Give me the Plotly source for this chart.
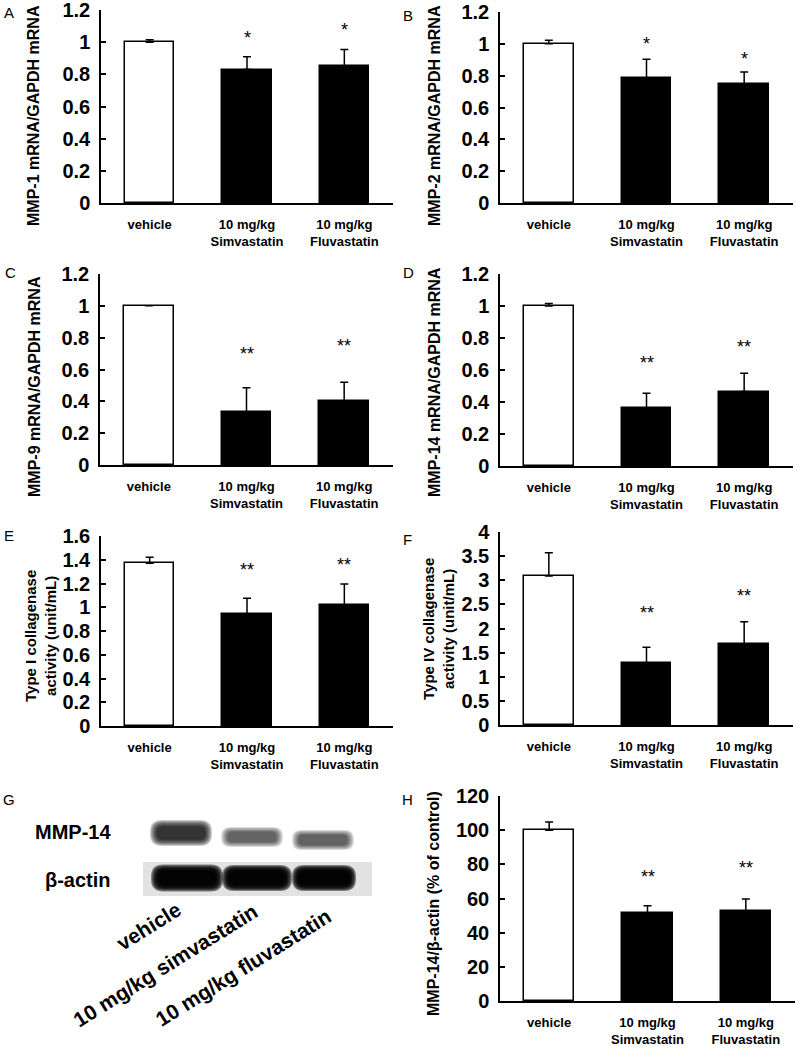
import plotly.graph_objects as go

# ---------------- data ----------------
categories = ["vehicle", "10 mg/kg<br>Simvastatin", "10 mg/kg<br>Fluvastatin"]
bar_colors = ["white", "black", "black"]

mmp1_mean = [1.00, 0.83, 0.85]
mmp1_err = [0.015, 0.08, 0.105]
mmp1_sig = ["", "*", "*"]
mmp1_sig_y = [0, 1.06, 1.108]

mmp2_mean = [1.00, 0.787, 0.745]
mmp2_err = [0.022, 0.116, 0.078]
mmp2_sig = ["", "*", "*"]
mmp2_sig_y = [0, 1.032, 0.938]

mmp9_mean = [1.00, 0.33, 0.40]
mmp9_err = [0.0, 0.155, 0.12]
mmp9_sig = ["", "**", "**"]
mmp9_sig_y = [0, 0.728, 0.776]

mmp14_mean = [1.00, 0.36, 0.465]
mmp14_err = [0.015, 0.095, 0.115]
mmp14_sig = ["", "**", "**"]
mmp14_sig_y = [0, 0.678, 0.778]

col1_mean = [1.37, 0.94, 1.015]
col1_err = [0.05, 0.135, 0.18]
col1_sig = ["", "**", "**"]
col1_sig_y = [0, 1.36, 1.40]

col4_mean = [3.09, 1.29, 1.68]
col4_err = [0.48, 0.32, 0.46]
col4_sig = ["", "**", "**"]
col4_sig_y = [0, 2.42, 2.77]

wb_mean = [100, 51.7, 52.7]
wb_err = [4.8, 4.1, 7.0]
wb_sig = ["", "**", "**"]
wb_sig_y = [0, 75.5, 80.8]

blot_lanes = ["vehicle", "10 mg/kg simvastatin", "10 mg/kg fluvastatin"]
mmp14_band_intensity = [1.0, 0.6, 0.62]
actin_band_intensity = [1.0, 1.0, 1.0]

# ---------------- layout helpers ----------------
W, H = 800, 1049
FONT = "Arial, Liberation Sans, Helvetica, sans-serif"


def px(x):
    return x / W


def py(y):
    return 1 - y / H


panels = [
    dict(letter="A", mean=mmp1_mean, err=mmp1_err, sig=mmp1_sig, sig_y=mmp1_sig_y,
         ymax=1.2, dtick=0.2, title="MMP-1 mRNA/GAPDH mRNA", title_size=16,
         box=(101, 393, 10, 203), title_pos=(33, 116), letter_pos=(9, 13)),
    dict(letter="B", mean=mmp2_mean, err=mmp2_err, sig=mmp2_sig, sig_y=mmp2_sig_y,
         ymax=1.2, dtick=0.2, title="MMP-2 mRNA/GAPDH mRNA", title_size=16,
         box=(500, 793, 12, 203), title_pos=(434, 116), letter_pos=(408, 15)),
    dict(letter="C", mean=mmp9_mean, err=mmp9_err, sig=mmp9_sig, sig_y=mmp9_sig_y,
         ymax=1.2, dtick=0.2, title="MMP-9 mRNA/GAPDH mRNA", title_size=16,
         box=(100, 393, 274, 465), title_pos=(34, 387), letter_pos=(10, 273)),
    dict(letter="D", mean=mmp14_mean, err=mmp14_err, sig=mmp14_sig, sig_y=mmp14_sig_y,
         ymax=1.2, dtick=0.2, title="MMP-14 mRNA/GAPDH mRNA", title_size=16,
         box=(500, 793, 274, 466), title_pos=(434, 382), letter_pos=(408, 273)),
    dict(letter="E", mean=col1_mean, err=col1_err, sig=col1_sig, sig_y=col1_sig_y,
         ymax=1.6, dtick=0.2, title="Type I collagenase<br>activity (unit/mL)", title_size=15,
         box=(101, 393, 536, 726), title_pos=(40, 636), letter_pos=(9, 535)),
    dict(letter="F", mean=col4_mean, err=col4_err, sig=col4_sig, sig_y=col4_sig_y,
         ymax=4, dtick=0.5, title="Type IV collagenase<br>activity (unit/mL)", title_size=15,
         box=(500, 793, 532, 725), title_pos=(438, 629), letter_pos=(407, 539)),
    dict(letter="H", mean=wb_mean, err=wb_err, sig=wb_sig, sig_y=wb_sig_y,
         ymax=120, dtick=20, title="MMP-14/β-actin (% of control)", title_size=16,
         box=(500, 795, 796, 1001), title_pos=(433, 904), letter_pos=(407, 799)),
]

fig = go.Figure()
annotations = []
shapes = []
layout_axes = {}

for i, p in enumerate(panels, start=1):
    xa = "x" if i == 1 else f"x{i}"
    ya = "y" if i == 1 else f"y{i}"
    x0, x1, y0, y1 = p["box"]
    fig.add_trace(go.Bar(
        x=[0, 1, 2], y=p["mean"], width=0.51,
        marker=dict(color=bar_colors, line=dict(color="black", width=1.5)),
        error_y=dict(type="data", array=p["err"], arrayminus=[0, 0, 0],
                     symmetric=False, color="black", thickness=1.5, width=4),
        xaxis=xa, yaxis=ya, showlegend=False, hoverinfo="skip",
    ))
    xname = "xaxis" if i == 1 else f"xaxis{i}"
    yname = "yaxis" if i == 1 else f"yaxis{i}"
    layout_axes[xname] = dict(
        domain=[px(x0), px(x1)], range=[-0.5, 2.5], anchor=ya, automargin=False,
        showline=True, linecolor="black", linewidth=1.5, ticks="",
        tickmode="array", tickvals=[0, 1, 2], ticktext=categories,
        tickfont=dict(family=FONT, size=13, color="black", weight="bold"),
        ticklabelstandoff=9, ticklabeloverflow="allow",
        showgrid=False, zeroline=False, fixedrange=True,
    )
    layout_axes[yname] = dict(
        domain=[py(y1), py(y0)], range=[0, p["ymax"]], anchor=xa, automargin=False,
        showline=True, linecolor="black", linewidth=1.5,
        ticks="inside", ticklen=5, tickwidth=1.5, tickcolor="black",
        tick0=0, dtick=p["dtick"],
        tickfont=dict(family=FONT, size=20, color="black", weight="bold"),
        ticklabelstandoff=5, ticklabeloverflow="allow",
        showgrid=False, zeroline=False, fixedrange=True,
    )
    for k, (s, sy) in enumerate(zip(p["sig"], p["sig_y"])):
        if s:
            annotations.append(dict(
                x=k, y=sy, xref=xa, yref=ya, text=s, showarrow=False,
                xanchor="center", yanchor="middle", yshift=-5,
                font=dict(family=FONT, size=18, color="black"),
            ))
    tx, ty = p["title_pos"]
    annotations.append(dict(
        x=px(tx), y=py(ty), xref="paper", yref="paper", text=p["title"],
        textangle=-90, showarrow=False, xanchor="center", yanchor="middle",
        font=dict(family=FONT, size=p["title_size"], color="black", weight="bold"),
    ))
    lx, ly = p["letter_pos"]
    annotations.append(dict(
        x=px(lx), y=py(ly), xref="paper", yref="paper", text=p["letter"],
        showarrow=False, xanchor="center", yanchor="middle",
        font=dict(family=FONT, size=15, color="black"),
    ))

# ---------------- panel G (western blot) ----------------
annotations.append(dict(x=px(9), y=py(799), xref="paper", yref="paper", text="G",
                        showarrow=False, xanchor="center", yanchor="middle",
                        font=dict(family=FONT, size=15, color="black")))
annotations.append(dict(x=px(113), y=py(832), xref="paper", yref="paper", text="MMP-14",
                        showarrow=False, xanchor="right", yanchor="middle",
                        font=dict(family=FONT, size=20, color="black", weight="bold")))
annotations.append(dict(x=px(113), y=py(880), xref="paper", yref="paper", text="β-actin",
                        showarrow=False, xanchor="right", yanchor="middle",
                        font=dict(family=FONT, size=20, color="black", weight="bold")))

lane_label_pos = [(148, 926), (165, 965), (243, 967)]
for name, (lx, ly) in zip(blot_lanes, lane_label_pos):
    annotations.append(dict(x=px(lx), y=py(ly), xref="paper", yref="paper", text=name,
                            textangle=-32, showarrow=False, xanchor="center", yanchor="middle",
                            font=dict(family=FONT, size=21, color="black", weight="bold")))

# actin strip background
shapes.append(dict(type="rect", xref="paper", yref="paper",
                   x0=px(143), x1=px(372), y0=py(896), y1=py(862),
                   fillcolor="#e2e2e2", line=dict(width=0), layer="below"))


def rounded_band(xa0, xa1, ya0, ya1, r):
    """rounded rectangle path in paper coords from pixel box"""
    rx, ry = r, min(r, (ya1 - ya0) / 2)
    pts = [
        ("M", xa0 + rx, ya0), ("L", xa1 - rx, ya0),
        ("Q", xa1, ya0, xa1, ya0 + ry), ("L", xa1, ya1 - ry),
        ("Q", xa1, ya1, xa1 - rx, ya1), ("L", xa0 + rx, ya1),
        ("Q", xa0, ya1, xa0, ya1 - ry), ("L", xa0, ya0 + ry),
        ("Q", xa0, ya0, xa0 + rx, ya0),
    ]
    parts = []
    for pt in pts:
        cmd = pt[0]
        coords = pt[1:]
        cs = []
        for j in range(0, len(coords), 2):
            cs.append(f"{px(coords[j]):.5f},{py(coords[j + 1]):.5f}")
        parts.append(cmd + " ".join(cs))
    return " ".join(parts) + " Z"


def band(xc, yc, w, h, strength, layers=7):
    out = []
    for j in range(layers):
        s = 1.0 - 0.08 * j
        ww, hh = w * (0.55 + 0.45 * s) / 2, h * s / 2
        out.append(dict(type="path", xref="paper", yref="paper",
                        path=rounded_band(xc - ww, xc + ww, yc - hh, yc + hh, hh * 0.9),
                        fillcolor="black", opacity=min(1.0, 0.2 * strength),
                        line=dict(width=0)))
    return out


mmp_band_geom = [(181, 833, 62, 26), (252, 837, 62, 20), (323, 840, 62, 20)]
actin_band_geom = [(187, 878, 72, 27), (257, 878, 70, 26), (324, 878, 64, 26)]
for (xc, yc, w, h), s in zip(mmp_band_geom, mmp14_band_intensity):
    shapes.extend(band(xc, yc, w, h, s))
for (xc, yc, w, h), s in zip(actin_band_geom, actin_band_intensity):
    shapes.extend(band(xc, yc, w, h, 2.2 * s))

fig.update_layout(
    width=W, height=H, margin=dict(l=0, r=0, t=0, b=0, autoexpand=False),
    paper_bgcolor="white", plot_bgcolor="white",
    annotations=annotations, shapes=shapes, bargap=0,
    **layout_axes,
)

fig.write_html("out.html", config={"displayModeBar": False},
               post_script="document.body.style.margin='0px';document.documentElement.style.margin='0px';")
